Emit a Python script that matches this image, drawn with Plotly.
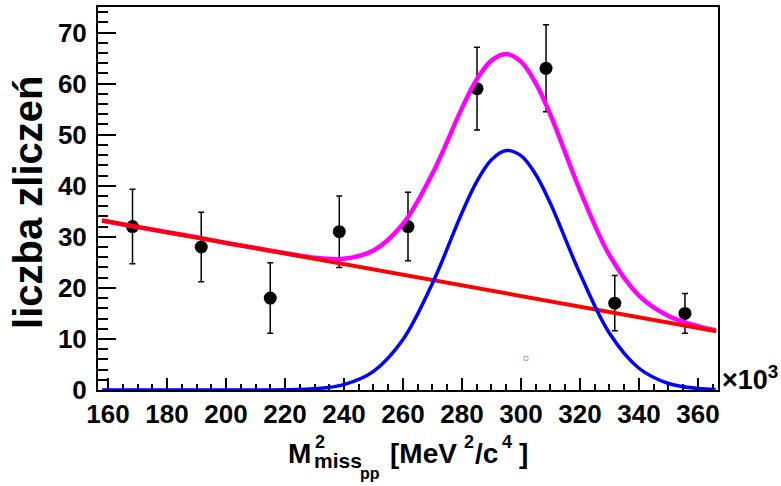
import plotly.graph_objects as go

# Histogram of missing-mass squared (x in units of 10^3 MeV^2/c^4)
bin_centers = [168.3, 191.6, 215.0, 238.4, 261.7, 285.1, 308.5, 331.8, 355.6]
counts = [32, 28, 18, 31, 32, 59, 63, 17, 15]
count_errors = [7.3, 6.8, 6.9, 7.0, 6.7, 8.1, 8.5, 5.4, 3.9]

# Fitted curves sampled along x
curve_x = [158, 170, 180, 190, 200, 210, 220, 230, 240, 250, 260, 270, 280,
           285, 290, 295, 300, 305, 310, 320, 330, 340, 350, 360, 366]
signal_y = [0.0, 0.0, 0.0, 0.0, 0.0, 0.01, 0.04, 0.24, 1.06, 3.65, 9.88, 20.9, 34.7,
            40.8, 45.1, 46.9, 45.9, 42.2, 36.5, 22.8, 11.1, 4.26, 1.27, 0.30, 0.11]
total_y = [33.2, 31.9, 30.9, 29.9, 28.8, 27.8, 26.8, 25.9, 25.7, 27.3, 32.5, 42.4, 55.2,
           60.8, 64.5, 65.8, 64.3, 60.1, 53.9, 39.1, 26.4, 18.5, 14.5, 12.5, 11.7]
background_x = [157.9, 366.2]
background_y = [33.2, 11.5]

# Stray marker inside the frame
stray_x = [301.7]
stray_y = [6.2]

x_range = [156.6, 366.8]
y_range = [0, 75]

FONT = "Liberation Sans, Arial, Helvetica, sans-serif"

# plot area in pixels
L, R, T, B = 98, 63, 5, 96
W, H = 781, 486
PW, PH = W - L - R, H - T - B


def px(xp):
    return (xp - L) / PW


def py(yp):
    return (H - B - yp) / PH


fig = go.Figure()

fig.add_trace(go.Scatter(
    x=bin_centers, y=counts, mode="markers",
    marker=dict(color="black", size=13, symbol="circle"),
    error_y=dict(type="data", array=count_errors, color="black", thickness=1.5, width=3),
    showlegend=False,
))

fig.add_trace(go.Scatter(
    x=stray_x, y=stray_y, mode="markers",
    marker=dict(color="#d08ce0", size=4, symbol="square-open", line=dict(width=1)),
    showlegend=False,
))

fig.add_trace(go.Scatter(
    x=curve_x, y=total_y, mode="lines", line=dict(color="#ff00ff", width=4.5, shape="spline"),
    showlegend=False,
))
fig.add_trace(go.Scatter(
    x=background_x, y=background_y, mode="lines", line=dict(color="#ff0000", width=4),
    showlegend=False,
))
fig.add_trace(go.Scatter(
    x=curve_x, y=signal_y, mode="lines", line=dict(color="#0000ff", width=3.5, shape="spline"),
    cliponaxis=False, showlegend=False,
))

axis_common = dict(
    showgrid=False, zeroline=False, showline=True, mirror=True,
    linecolor="black", linewidth=2, ticks="inside", tickcolor="black", tickwidth=1.5,
    tickfont=dict(family=FONT, size=26, color="black", weight="bold"),
    layer="below traces",
)

fig.update_xaxes(
    range=x_range, tick0=160, dtick=20, ticklen=12,
    minor=dict(ticks="inside", dtick=5, ticklen=6, tickcolor="black", tickwidth=1.5, showgrid=False),
    **axis_common,
)
fig.update_yaxes(
    range=y_range, tick0=0, dtick=10, ticklen=18, ticklabelstandoff=4,
    minor=dict(ticks="inside", dtick=2, ticklen=10, tickcolor="black", tickwidth=1.5, showgrid=False),
    **axis_common,
)


def label(text, x_left, y_mid, size, anchor="left", angle=0):
    fig.add_annotation(
        text=text, xref="paper", yref="paper", x=px(x_left), y=py(y_mid),
        xanchor=anchor, yanchor="middle", showarrow=False, textangle=angle,
        font=dict(family=FONT, size=size, color="black", weight="bold"),
    )


# y-axis title
label("liczba zliczeń", 28, 202, 40, anchor="center", angle=-90)

# x-axis title: M^2_{miss_pp} [MeV^2/c^4]
label("M", 286, 454, 28)
label("2", 313, 442, 18)
label("miss", 312, 461, 21)
label("pp", 358, 474, 16)
label("[MeV", 388, 454, 28)
label("2", 462, 442, 18)
label("/c", 473, 454, 28)
label("4", 500, 442, 18)
label("]", 517, 454, 28)

# axis multiplier
label("×10<sup>3</sup>", 720, 378, 27)

fig.update_layout(
    width=W, height=H, autosize=False,
    margin=dict(l=L, r=R, t=T, b=B, pad=0),
    paper_bgcolor="white", plot_bgcolor="white",
    font=dict(family=FONT, color="black"),
)

fig.write_html("out.html")
